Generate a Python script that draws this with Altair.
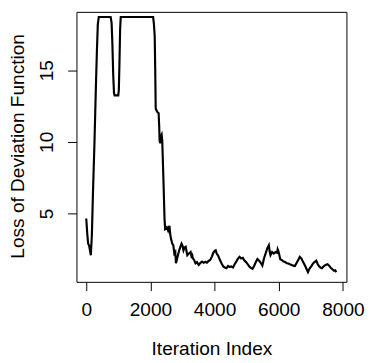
import altair as alt
import pandas as pd

iteration = [0, 30, 60, 90, 110, 143, 175, 210, 256, 300, 330, 360, 390, 760, 790, 815, 840, 865, 884, 997,
             1015, 1035, 1055, 1075, 2085, 2110, 2134, 2150, 2165, 2207, 2256, 2275, 2287, 2310, 2329, 2350,
             2369, 2409, 2440, 2460, 2490, 2512, 2550, 2592, 2620, 2643, 2680, 2714, 2745, 2775, 2796, 2817,
             2860, 2897, 2940, 2970, 3000, 3030, 3060, 3100, 3130, 3150, 3200, 3253, 3280, 3304, 3323, 3360,
             3405, 3450, 3506, 3560, 3608, 3659, 3710, 3760, 3811, 3863, 3920, 3960, 4000, 4036, 4065, 4110,
             4168, 4220, 4270, 4320, 4371, 4422, 4473, 4520, 4574, 4625, 4676, 4720, 4777, 4830, 4879, 4930,
             4981, 5030, 5082, 5130, 5184, 5235, 5286, 5336, 5387, 5440, 5489, 5540, 5590, 5641, 5692, 5720,
             5743, 5793, 5845, 5900, 5946, 5966, 5997, 6048, 6098, 6149, 6200, 6251, 6302, 6350, 6403, 6454,
             6505, 6560, 6607, 6657, 6708, 6760, 6810, 6860, 6911, 6960, 7013, 7070, 7115, 7170, 7216, 7260,
             7300, 7348, 7400, 7460, 7520, 7572, 7620, 7673, 7724, 7760, 7795]
loss = [4.64, 3.6, 2.88, 2.75, 2.5, 2.08, 3.5, 6.5, 9.94, 13.8, 16.2, 18.2, 18.71, 18.71, 18.3, 16.8, 14.7, 13.4, 13.24, 13.24,
        13.6, 15.5, 17.8, 18.71, 18.71, 18.2, 17.34, 15.0, 12.33, 12.1, 11.99, 11.0, 10.05, 9.9, 10.4, 10.5,
        10.05, 7.1, 4.6, 3.9, 3.95, 4.02, 3.8, 4.13, 3.5, 3.22, 2.9, 2.77, 2.2, 2.3, 1.52, 1.7,
        2.1, 2.42, 2.7, 2.88, 2.75, 2.42, 2.6, 2.66, 2.3, 2.08, 2.2, 2.3, 2.0, 2.08, 1.86, 1.75,
        1.52, 1.6, 1.4, 1.55, 1.63, 1.55, 1.62, 1.56, 1.68, 1.74, 2.0, 2.25, 2.38, 2.42, 2.2, 2.05,
        1.74, 1.5, 1.29, 1.22, 1.17, 1.33, 1.25, 1.3, 1.22, 1.45, 1.63, 1.8, 1.97, 1.85, 1.9, 1.7,
        1.6, 1.45, 1.29, 1.2, 1.13, 1.35, 1.6, 1.81, 1.7, 1.55, 1.36, 1.85, 2.2, 2.55, 2.77, 2.3,
        2.08, 2.3, 2.2, 2.3, 2.25, 2.49, 2.3, 1.8, 1.74, 1.63, 1.6, 1.52, 1.5, 1.45, 1.4, 1.35,
        1.33, 1.55, 1.74, 1.97, 1.85, 1.6, 1.4, 1.15, 0.9, 1.15, 1.3, 1.5, 1.6, 1.7, 1.45, 1.3,
        1.22, 1.17, 1.3, 1.4, 1.45, 1.35, 1.2, 1.1, 0.99, 1.02, 0.9]

x_ticks = [0, 2000, 4000, 6000, 8000]
y_ticks = [5, 10, 15]

df = pd.DataFrame({"iter": iteration, "loss": loss})

FONT = "Liberation Sans"
FS = 19.5

chart = alt.Chart(df).mark_line(color="black", strokeWidth=2.2, clip=True).encode(
    x=alt.X("iter:Q",
            scale=alt.Scale(domain=[-305, 8110], nice=False, zero=False),
            axis=alt.Axis(values=x_ticks, format="d", title="Iteration Index", grid=False, domain=False,
                          tickSize=9, tickColor="black", tickWidth=1,
                          labelFont=FONT, labelFontSize=FS, labelColor="black", labelPadding=10,
                          labelFlush=False, labelOverlap=False,
                          titleFont=FONT, titleFontSize=FS, titleFontWeight="normal", titleColor="black",
                          titleBaseline="alphabetic", titleX=138, titleY=74, titleAlign="center")),
    y=alt.Y("loss:Q",
            scale=alt.Scale(domain=[0.22, 19.07], nice=False, zero=False),
            axis=alt.Axis(values=y_ticks, format="d", title="Loss of Deviation Function", grid=False, domain=False,
                          tickSize=9, tickColor="black", tickWidth=1,
                          labelFont=FONT, labelFontSize=FS, labelColor="black", labelPadding=12,
                          labelAngle=270, labelAlign="center", labelBaseline="bottom",
                          labelFlush=False, labelOverlap=False,
                          titleFont=FONT, titleFontSize=FS, titleFontWeight="normal", titleColor="black",
                          titleAngle=270, titleBaseline="alphabetic", titleAlign="center",
                          titleX=-54, titleY=137)),
).properties(
    width=276, height=276,
    autosize=alt.AutoSizeParams(type="none"),
    padding={"left": 70, "top": 0, "right": 20, "bottom": 79},
).configure_view(stroke="black", strokeWidth=1)

chart.save("out.html", embed_options={"renderer": "svg", "actions": False})
